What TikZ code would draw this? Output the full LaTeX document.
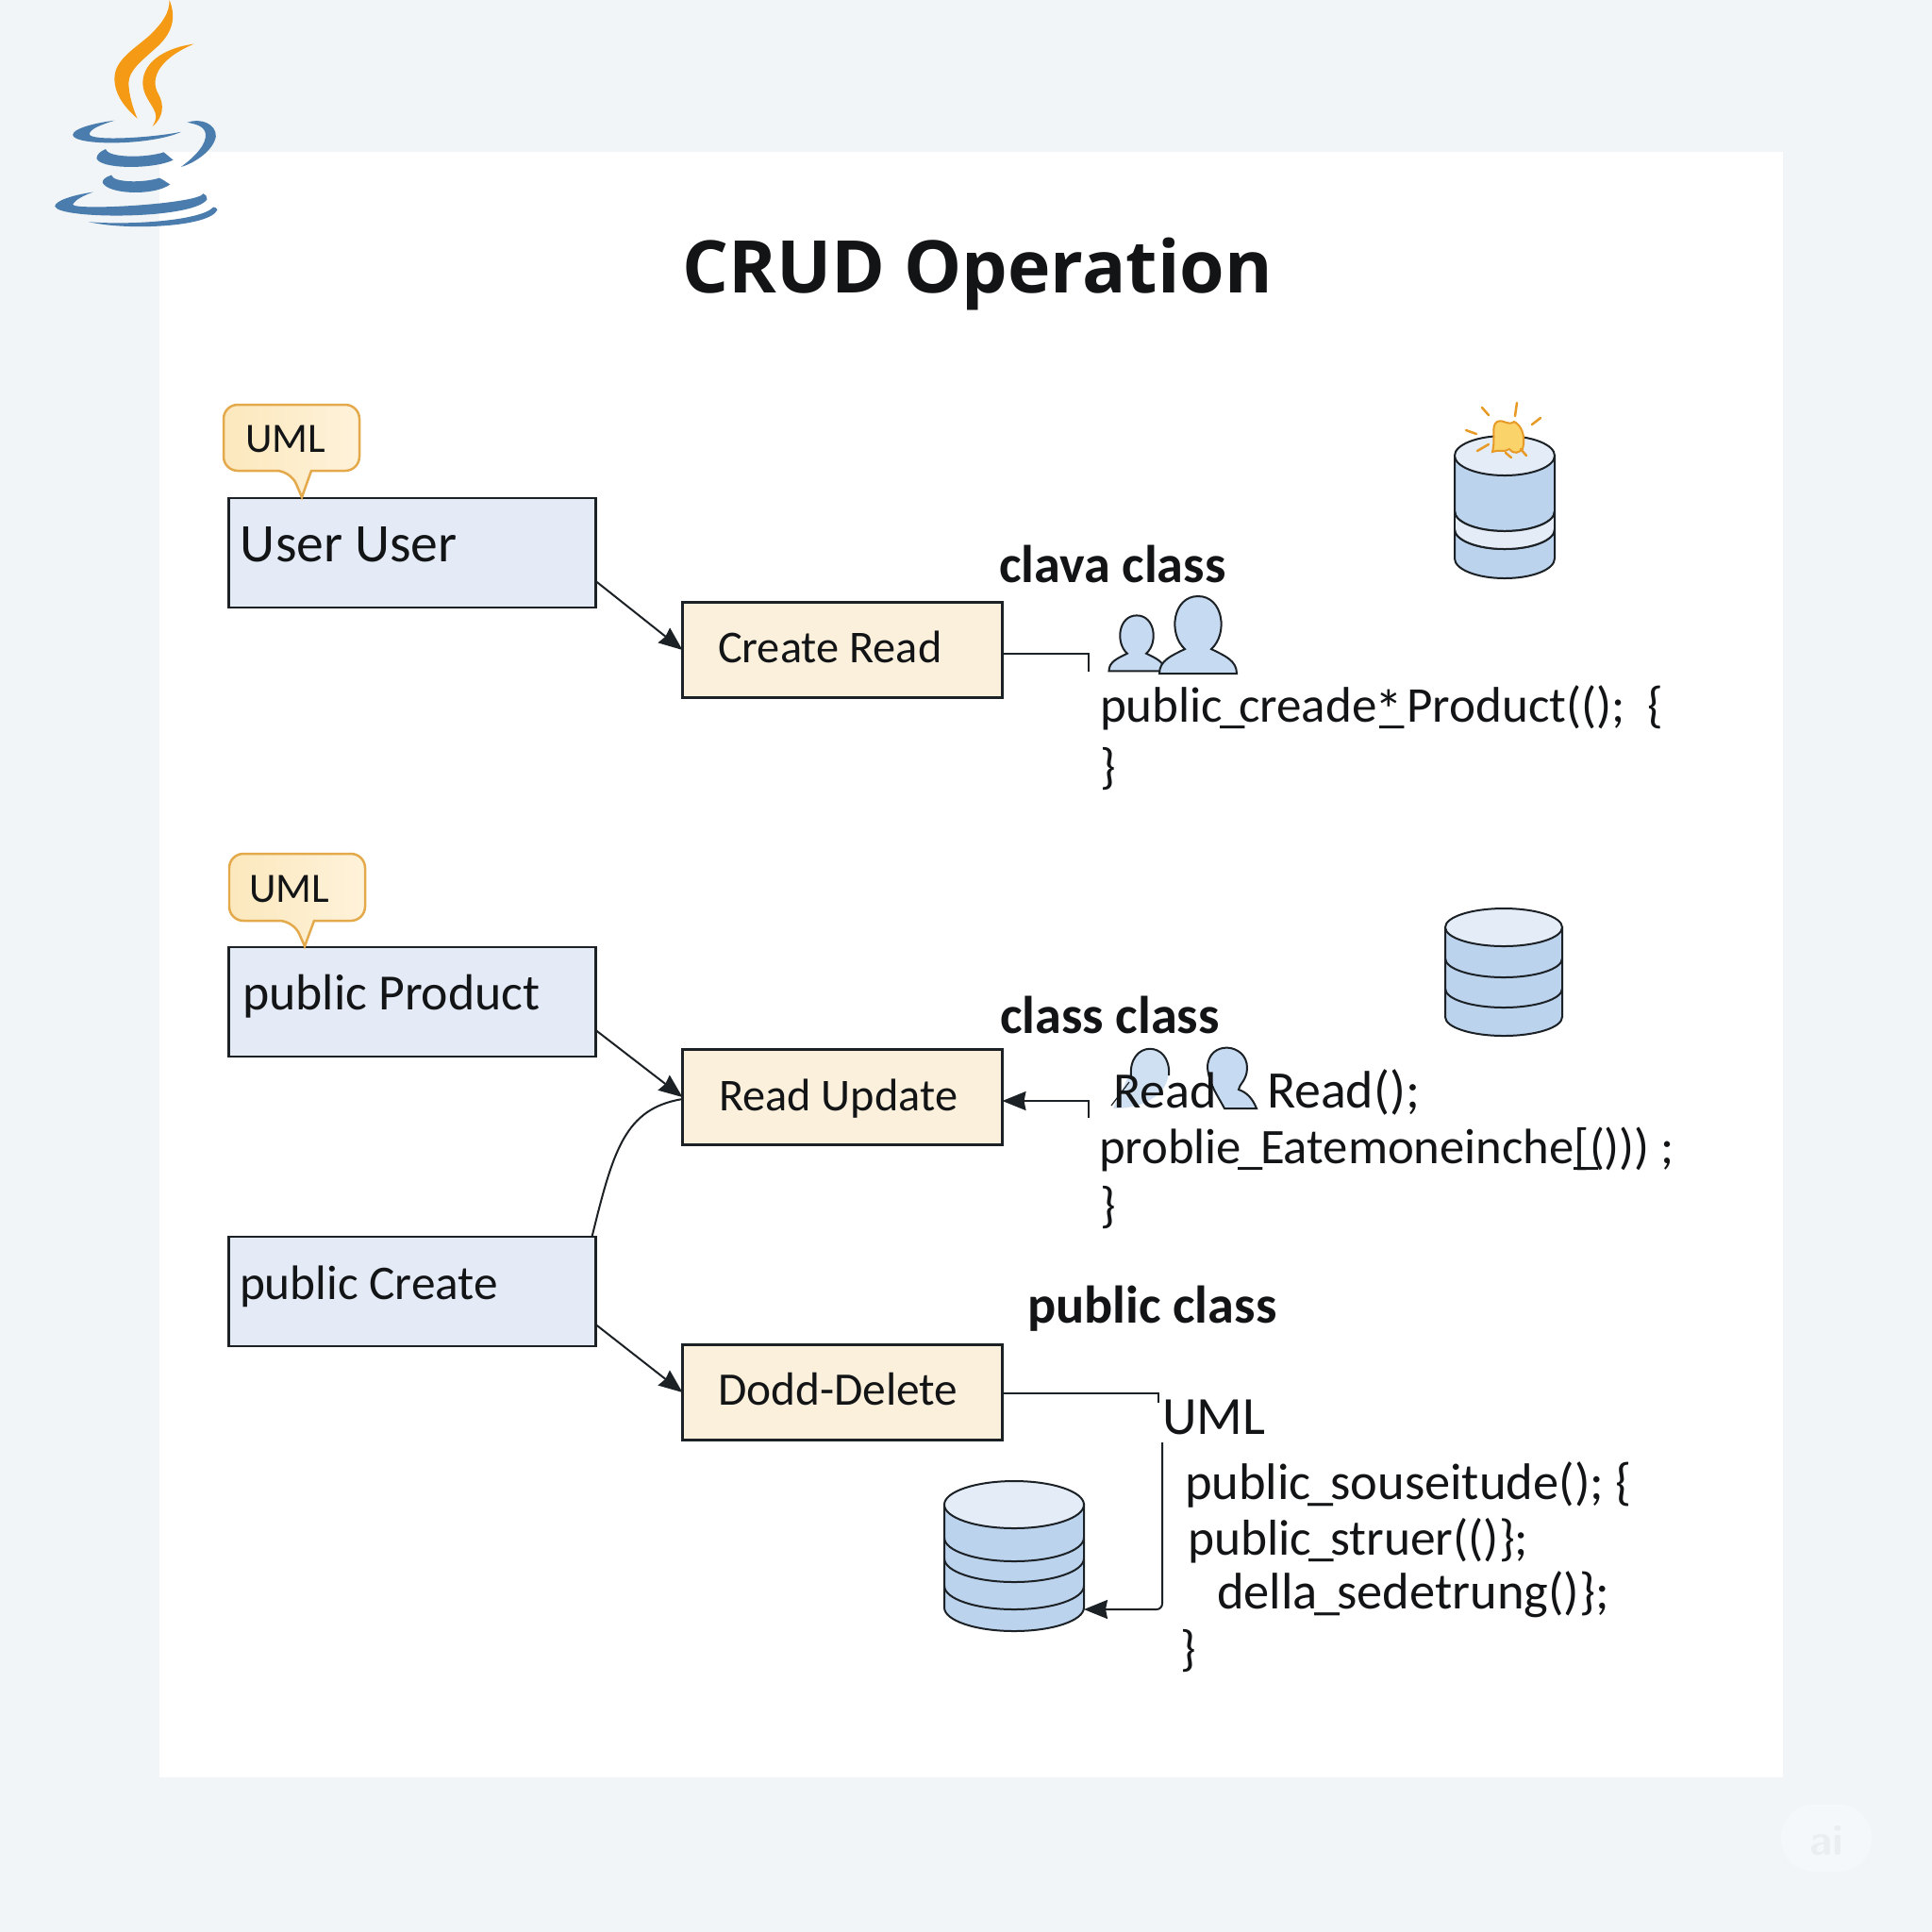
\documentclass[tikz,border=0pt]{standalone}
\usepackage{fontspec}
\setmainfont{Carlito}
\newfontfamily\titlefont{Open Sans}
\usetikzlibrary{arrows.meta}
\definecolor{pagebg}{HTML}{F1F5F8}
\definecolor{boxblue}{HTML}{E4EBF6}
\definecolor{boxorange}{HTML}{FBF0DC}
\definecolor{tagfill}{HTML}{FCE8BD}
\definecolor{tagpale}{HTML}{FEF2DA}
\definecolor{tagline}{HTML}{E3A94B}
\definecolor{inkdark}{HTML}{1C2126}
\definecolor{inktext}{HTML}{121416}
\definecolor{dbbody}{HTML}{BCD3EE}
\definecolor{dbtop}{HTML}{E4ECF8}
\definecolor{javablue}{HTML}{4A7DAE}
\definecolor{javaorange}{HTML}{F59A14}
\definecolor{sparkfill}{HTML}{FBD36B}
\definecolor{sparkline}{HTML}{E79A25}
\newcommand{\fs}[1]{\fontsize{#1}{#1}\selectfont}
\newcommand{\us}{\kern-.06em\_\kern-.06em}
\newcommand{\dbstack}[6]{% centre x, top y, rx, ry, height, bands
  \draw[dbline,fill=dbbody] (#1-#3,#2) -- ++(0,-#5) arc (180:360:#3 and #4) -- ++(0,#5) -- cycle;
  \draw[dbline,fill=dbtop] (#1,#2) ellipse (#3 and #4);
  \foreach \band in {#6} \draw[dbline] (#1-#3,#2-\band) arc (180:360:#3 and #4);
}
\newcommand{\personicon}[3]{%
  \draw[dbline,fill=dbbody!85!white,shift={(#1,#2)},scale=#3] (-.41,-.52) .. controls (-.41,-.38) and (-.28,-.33) .. (-.14,-.26)
    .. controls (-.32,-.1) and (-.27,.3) .. (0,.3) .. controls (.27,.3) and (.32,-.1) .. (.14,-.26)
    .. controls (.28,-.33) and (.41,-.38) .. (.41,-.52) -- cycle;
}
\begin{document}
\begin{tikzpicture}[inner sep=0pt,outer sep=0pt,>={Stealth[length=0.25cm,width=0.2cm,inset=0.02cm]},
bluebox/.style={draw=inkdark,fill=boxblue,line width=0.025cm,minimum width=3.89cm,minimum height=1.16cm},
orangebox/.style={draw=inkdark,fill=boxorange,line width=0.025cm,minimum width=3.39cm,minimum height=1.01cm},
tagbox/.style={draw=tagline,left color=tagfill,right color=tagpale,line width=0.025cm,rounded corners=0.15cm},
wire/.style={draw=inkdark,line width=0.02cm},
dbline/.style={draw=inkdark,line width=0.02cm},
ray/.style={draw=sparkline,line width=0.025cm,line cap=round},
labeltext/.style={anchor=base west,text=inktext},
headtext/.style={anchor=base west,text=inktext,font=\fs{16}\bfseries},
codetext/.style={anchor=base west,text=inktext,font=\fs{15}}]
\useasboundingbox (0,0) rectangle (20.48,-20.48);
\fill[pagebg] (0,0) rectangle (20.48,-20.48);
\fill[white] (1.69,-1.61) rectangle (18.90,-18.84);
% watermark
\fill[white,opacity=.35,rounded corners=0.35cm] (18.88,-19.13) rectangle (19.84,-19.84);
\node[anchor=base,text=pagebg!97!black,font=\fs{13}\bfseries\sffamily] (mark) at (19.36,-19.66) {ai};
% java logo
\begin{scope}[x=0.00333cm,y=-0.00333cm]
\fill[javaorange] (540,0) .. controls (560,50) and (555,100) .. (500,150) .. controls (450,195) and (410,225) .. (410,265)
  .. controls (410,300) and (425,350) .. (438,378) .. controls (395,340) and (365,300) .. (365,250)
  .. controls (365,190) and (430,155) .. (480,110) .. controls (520,70) and (540,40) .. (540,0) -- cycle;
\fill[javaorange] (618,140) .. controls (540,150) and (455,190) .. (455,265) .. controls (455,310) and (495,340) .. (497,370)
  .. controls (497,385) and (490,395) .. (486,403) .. controls (520,375) and (525,335) .. (505,300)
  .. controls (478,255) and (500,190) .. (618,140) -- cycle;
\fill[javablue] (365,384) .. controls (300,392) and (232,410) .. (232,430) .. controls (235,465) and (480,465) .. (578,420)
  .. controls (480,440) and (290,450) .. (285,428) .. controls (285,410) and (330,395) .. (365,384) -- cycle;
\fill[javablue] (597,390) .. controls (640,375) and (690,395) .. (688,435) .. controls (680,480) and (620,520) .. (577,532)
  .. controls (620,500) and (660,460) .. (655,425) .. controls (650,400) and (620,395) .. (597,390) -- cycle;
\fill[javablue] (337,475) .. controls (320,482) and (308,492) .. (308,505) .. controls (320,540) and (490,540) .. (552,510)
  .. controls (540,500) and (530,492) .. (522,485) .. controls (470,503) and (345,505) .. (337,475) -- cycle;
\fill[javablue] (355,558) .. controls (335,565) and (327,572) .. (327,582) .. controls (345,620) and (490,625) .. (542,588)
  .. controls (530,580) and (518,572) .. (508,567) .. controls (460,583) and (360,583) .. (355,558) -- cycle;
\fill[javablue] (297,612) .. controls (230,622) and (175,640) .. (175,658) .. controls (190,700) and (620,700) .. (660,635)
  .. controls (660,625) and (655,620) .. (648,617) .. controls (630,650) and (240,672) .. (232,652) .. controls (240,635) and (270,622) .. (297,612) -- cycle;
\fill[javablue] (283,707) .. controls (400,735) and (670,725) .. (693,668) .. controls (690,662) and (685,660) .. (680,660)
  .. controls (640,705) and (400,718) .. (283,707) -- cycle;
\end{scope}
% title
\node[anchor=base,text=inktext,font=\titlefont\fs{21.9}\bfseries] (titlenode) at (10.36,-3.10) {CRUD Operation};
% boxes
\node[bluebox] (userbox) at (4.37,-5.86) {};
\node[bluebox] (productbox) at (4.37,-10.62) {};
\node[bluebox] (createpub) at (4.37,-13.69) {};
\node[orangebox] (createbox) at (8.93,-6.89) {};
\node[orangebox] (readbox) at (8.93,-11.63) {};
\node[orangebox] (deletebox) at (8.93,-14.76) {};
\node[labeltext,font=\fs{16.4}] (userlabel) at (2.55,-5.95) {User User};
\node[labeltext,font=\fs{15.3}] (productlabel) at (2.57,-10.70) {public Product};
\node[labeltext,font=\fs{14.6}] (publabel) at (2.54,-13.77) {public Create};
\node[labeltext,font=\fs{13.75}] (createlabel) at (7.61,-7.02) {Create Read};
\node[labeltext,font=\fs{13.75}] (readlabel) at (7.62,-11.77) {Read Update};
\node[labeltext,font=\fs{14.05}] (deletelabel) at (7.61,-14.89) {Dodd-Delete};
% UML tags
\draw[tagbox] (3.08,-4.99) [sharp corners] -- (3.20,-5.27) -- (3.30,-4.99) [rounded corners=0.15cm] -- (3.81,-4.99) -- (3.81,-4.29) -- (2.37,-4.29) -- (2.37,-4.99) -- cycle;
\draw[tagbox] (3.11,-9.76) [sharp corners] -- (3.23,-10.03) -- (3.33,-9.76) [rounded corners=0.15cm] -- (3.87,-9.76) -- (3.87,-9.05) -- (2.43,-9.05) -- (2.43,-9.76) -- cycle;
\node[labeltext,font=\fs{12.6}] (tagone) at (2.60,-4.79) {UML};
\node[labeltext,font=\fs{12.6}] (tagtwo) at (2.64,-9.56) {UML};
% connectors
\draw[wire,->] ([yshift=-0.30cm]userbox.east) -- (createbox.west);
\draw[wire,->] ([yshift=-0.30cm]productbox.east) -- (readbox.west);
\draw[wire] ([xshift=-0.04cm]createpub.north east) .. controls (6.5,-12.2) and (6.62,-11.75) .. ([yshift=-0.02cm]readbox.west);
\draw[wire,->] ([yshift=-0.35cm]createpub.east) -- (deletebox.west);
\coordinate (createend) at (11.54,-7.12);
\coordinate (readend) at (11.54,-11.85);
\coordinate (deleteend) at (12.28,-14.87);
\coordinate (dbinfrom) at (12.32,-15.29);
\coordinate (dbinto) at (11.49,-17.06);
\draw[wire] (createbox.east |- 0,-6.93) -| (createend);
\draw[wire,->] (readend) |- (readbox.east |- 0,-11.67);
\draw[wire] (deletebox.east |- 0,-14.77) -| (deleteend);
\draw[wire,->,rounded corners=0.06cm] (dbinfrom) |- (dbinto);
% databases
\dbstack{15.95}{-4.83}{0.53}{0.21}{1.09}{0.59,0.78}
\fill[dbtop] (15.42,-5.42) arc (180:360:0.53 and 0.21) -- (16.48,-5.61) arc (360:180:0.53 and 0.21) -- cycle;
\foreach \band in {0.59,0.78} \draw[dbline] (15.42,-4.83-\band) arc (180:360:0.53 and 0.21);
\draw[dbline] (15.42,-5.42) -- (15.42,-5.61) (16.48,-5.42) -- (16.48,-5.61);
\dbstack{15.94}{-9.83}{0.62}{0.20}{0.95}{0.33,0.65}
\dbstack{10.75}{-15.95}{0.74}{0.25}{1.09}{0.35,0.57,0.86}
% spark on top of the first one
\draw[sparkline,fill=sparkfill,line width=0.02cm] (15.82,-4.79) .. controls (15.86,-4.62) and (15.80,-4.52) .. (15.87,-4.47)
  .. controls (15.95,-4.44) and (15.98,-4.52) .. (16.05,-4.47) .. controls (16.12,-4.50) and (16.18,-4.62) .. (16.14,-4.76)
  .. controls (16.10,-4.80) and (16.05,-4.82) .. (16.00,-4.76) .. controls (15.95,-4.80) and (15.88,-4.76) .. (15.82,-4.79) -- cycle;
\draw[ray] (15.71,-4.32) -- (15.78,-4.40) (16.08,-4.27) -- (16.06,-4.41) (16.33,-4.43) -- (16.24,-4.50) (15.54,-4.56) -- (15.65,-4.60)
  (15.66,-4.78) -- (15.78,-4.71) (16.12,-4.76) -- (16.18,-4.83) (15.96,-4.80) -- (16.02,-4.85);
% people
\personicon{12.05}{-6.74}{0.72}
\personicon{12.70}{-6.62}{1}
\fill[dbbody!70!white] (11.99,-11.35) .. controls (11.99,-11.05) and (12.39,-11.05) .. (12.39,-11.35) .. controls (12.39,-11.55) and (12.2,-11.75) .. (11.80,-11.75) -- cycle;
\draw[dbline] (11.99,-11.42) .. controls (11.95,-11.02) and (12.42,-11.02) .. (12.39,-11.40);
\draw[dbline,line width=0.012cm] (11.97,-11.47) -- (11.78,-11.72);
\draw[dbline,fill=dbbody!85!white] (12.80,-11.32) .. controls (12.80,-11.02) and (13.22,-11.05) .. (13.22,-11.32)
  .. controls (13.22,-11.45) and (13.13,-11.50) .. (13.13,-11.55) .. controls (13.22,-11.58) and (13.28,-11.65) .. (13.32,-11.75)
  -- (12.98,-11.75) .. controls (12.90,-11.60) and (12.82,-11.50) .. (12.80,-11.32) -- cycle;
% code
\node[headtext] (headone) at (10.59,-6.17) {clava class};
\node[headtext] (headtwo) at (10.60,-10.95) {class class};
\node[headtext] (headthree) at (10.89,-14.02) {public class};
\node[codetext,font=\fs{15.1}] (codeonea) at (11.66,-7.65) {public\us\kern-.06em creade\rlap{\kern-.04em\raisebox{-2.5pt}{\fs{17}*}}\kern.05em\_\kern.05em Product(();~~\{};
\node[codetext] (codeoneb) at (11.66,-8.30) {\}};
\node[codetext,font=\fs{15.4}] (codetwoa) at (11.80,-11.745) {Read};
\node[codetext,font=\fs{15.9}] (codetwob) at (13.43,-11.745) {Read();};
\node[codetext] (codetwoc) at (11.65,-12.335) {problie\us Eatemoneinche\rlap{\_}[()))~;};
\node[codetext] (codetwod) at (11.66,-12.95) {\}};
\node[labeltext,font=\fs{16.2}] (umlcode) at (12.32,-15.205) {UML};
\node[codetext,font=\fs{15.5}] (codethreea) at (12.56,-15.895) {public\us souseitude();~\{};
\node[codetext,font=\fs{15.2}] (codethreeb) at (12.59,-16.48) {public\us struer(()\};};
\node[codetext,font=\fs{15.5}] (codethreec) at (12.90,-17.055) {della\us sedetrung()\};};
\node[codetext] (codethreed) at (12.51,-17.65) {\}};
\end{tikzpicture}
\end{document}
